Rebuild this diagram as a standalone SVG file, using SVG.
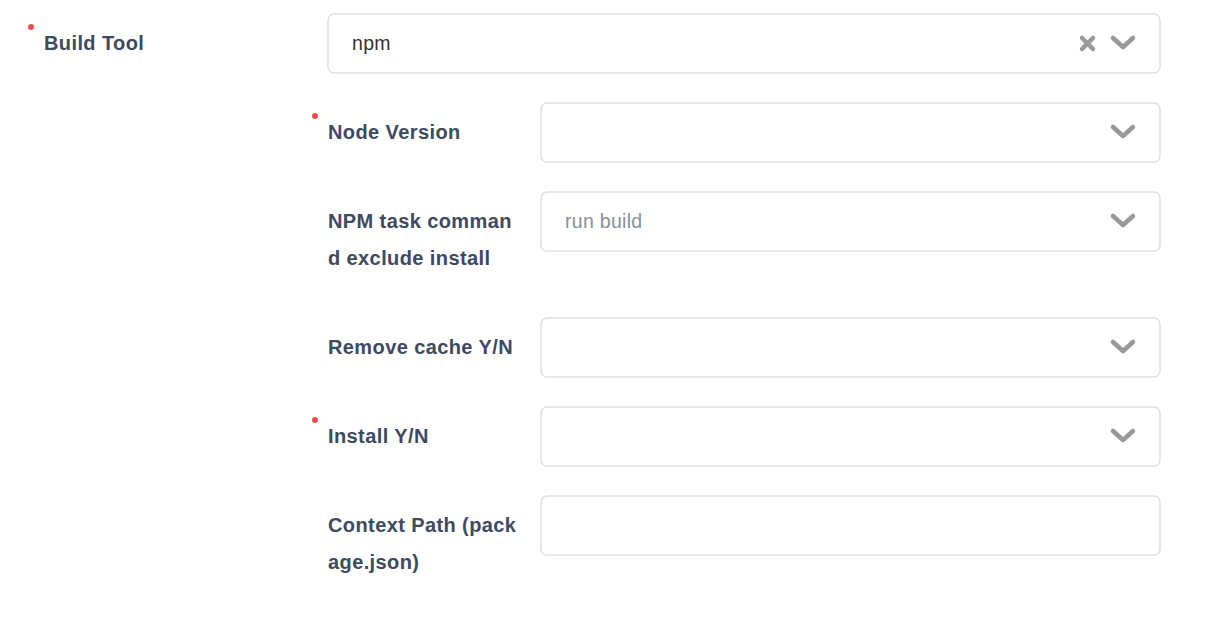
<svg xmlns="http://www.w3.org/2000/svg" width="1212" height="625" viewBox="0 0 1212 625">
<style>
.lbl{font-family:"Liberation Sans",Arial,sans-serif;font-size:20px;letter-spacing:0.4px;font-weight:bold;fill:#3d4a5f}
.val{font-family:"Liberation Sans",Arial,sans-serif;font-size:19.5px;letter-spacing:0.3px;fill:#333}
.ph{font-family:"Liberation Sans",Arial,sans-serif;font-size:19.5px;letter-spacing:0.3px;fill:#8a8f99}
.box{fill:#fff;stroke:#dcdfe6;stroke-width:1.5}
.dot{fill:#ef4d4d}
.chev{fill:none;stroke:#999;stroke-width:4.5;stroke-linecap:round;stroke-linejoin:round}
</style>
<rect width="1212" height="625" fill="#fff"/>
<g id="build-tool">
<circle class="dot" cx="31" cy="27" r="3"/>
<text class="lbl" x="44" y="50">Build Tool</text>
<rect class="box" x="328" y="14" width="832" height="59" rx="6"/>
<text class="val" x="352" y="50">npm</text>
<path d="M1082 38l11 11M1093 38l-11 11" stroke="#999" stroke-width="4.5" stroke-linecap="round"/>
<path class="chev" d="M1113 38l10 9 10-9"/>
</g>
<g id="node-version">
<circle class="dot" cx="315" cy="116" r="3"/>
<text class="lbl" x="328" y="139">Node Version</text>
<rect class="box" x="541" y="103" width="619" height="59" rx="6"/>
<path class="chev" d="M1113 127l10 9 10-9"/>
</g>
<g id="npm-task">
<text class="lbl" x="328" y="228">NPM task comman</text>
<text class="lbl" x="328" y="265">d exclude install</text>
<rect class="box" x="541" y="192" width="619" height="59" rx="6"/>
<text class="ph" x="565" y="228">run build</text>
<path class="chev" d="M1113 216l10 9 10-9"/>
</g>
<g id="remove-cache">
<text class="lbl" x="328" y="354">Remove cache Y/N</text>
<rect class="box" x="541" y="318" width="619" height="59" rx="6"/>
<path class="chev" d="M1113 342l10 9 10-9"/>
</g>
<g id="install">
<circle class="dot" cx="315" cy="420" r="3"/>
<text class="lbl" x="328" y="443">Install Y/N</text>
<rect class="box" x="541" y="407" width="619" height="59" rx="6"/>
<path class="chev" d="M1113 431l10 9 10-9"/>
</g>
<g id="context-path">
<text class="lbl" x="328" y="532">Context Path (pack</text>
<text class="lbl" x="328" y="569">age.json)</text>
<rect class="box" x="541" y="496" width="619" height="59" rx="6"/>
</g>
<g id="connectors"/>
</svg>
